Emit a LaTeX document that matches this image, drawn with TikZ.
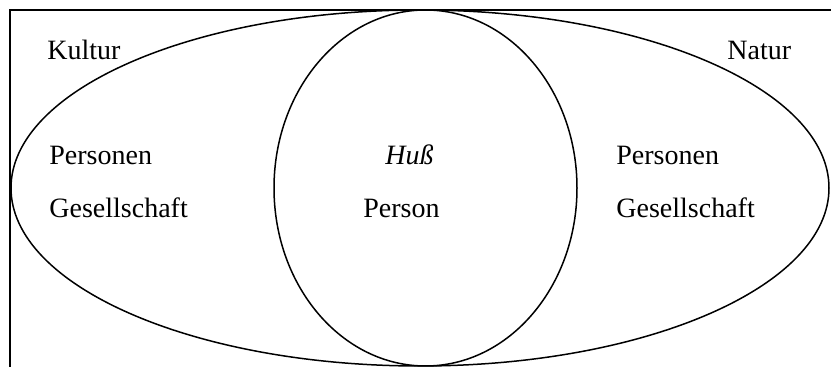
\documentclass[tikz,border=0pt]{standalone}
\usepackage{fontspec}
\setmainfont{Liberation Serif}
\usetikzlibrary{shapes.geometric}

\begin{document}
\begin{tikzpicture}[x=0.5pt, y=-0.5pt,
    lbl/.style={font=\fontsize{14}{17}\selectfont, anchor=base west, inner sep=0pt},
    oval/.style={draw, ellipse, inner sep=0pt, outer sep=0pt, line width=0.75pt}]
    \useasboundingbox (0,0) rectangle (831,367);

    % Frame (open at the right and at the bottom)
    \coordinate (fu) at (10,367);
    \coordinate (fo) at (10,10);
    \coordinate (fr) at (831,10);
    \draw[line width=1pt] (fu) -- (fo) -- (fr);

    % Ellipses
    \node[oval, minimum width=409pt, minimum height=178pt] (welt) at (420,188) {};
    \node[oval, minimum width=151.5pt, minimum height=178pt] (mensch) at (425.5,188) {};

    % Labels
    \node[lbl] (kultur) at (47,60) {Kultur};
    \node[lbl] (natur) at (727,60) {Natur};

    \node[lbl] (perslinks) at (49,165) {Personen};
    \node[lbl] (geslinks) at (49,218) {Gesellschaft};

    \node[lbl] (huss) at (385,165) {\itshape Huß};
    \node[lbl] (person) at (363,218) {Person};

    \node[lbl] (persrechts) at (616,165) {Personen};
    \node[lbl] (gesrechts) at (616,218) {Gesellschaft};
\end{tikzpicture}
\end{document}
